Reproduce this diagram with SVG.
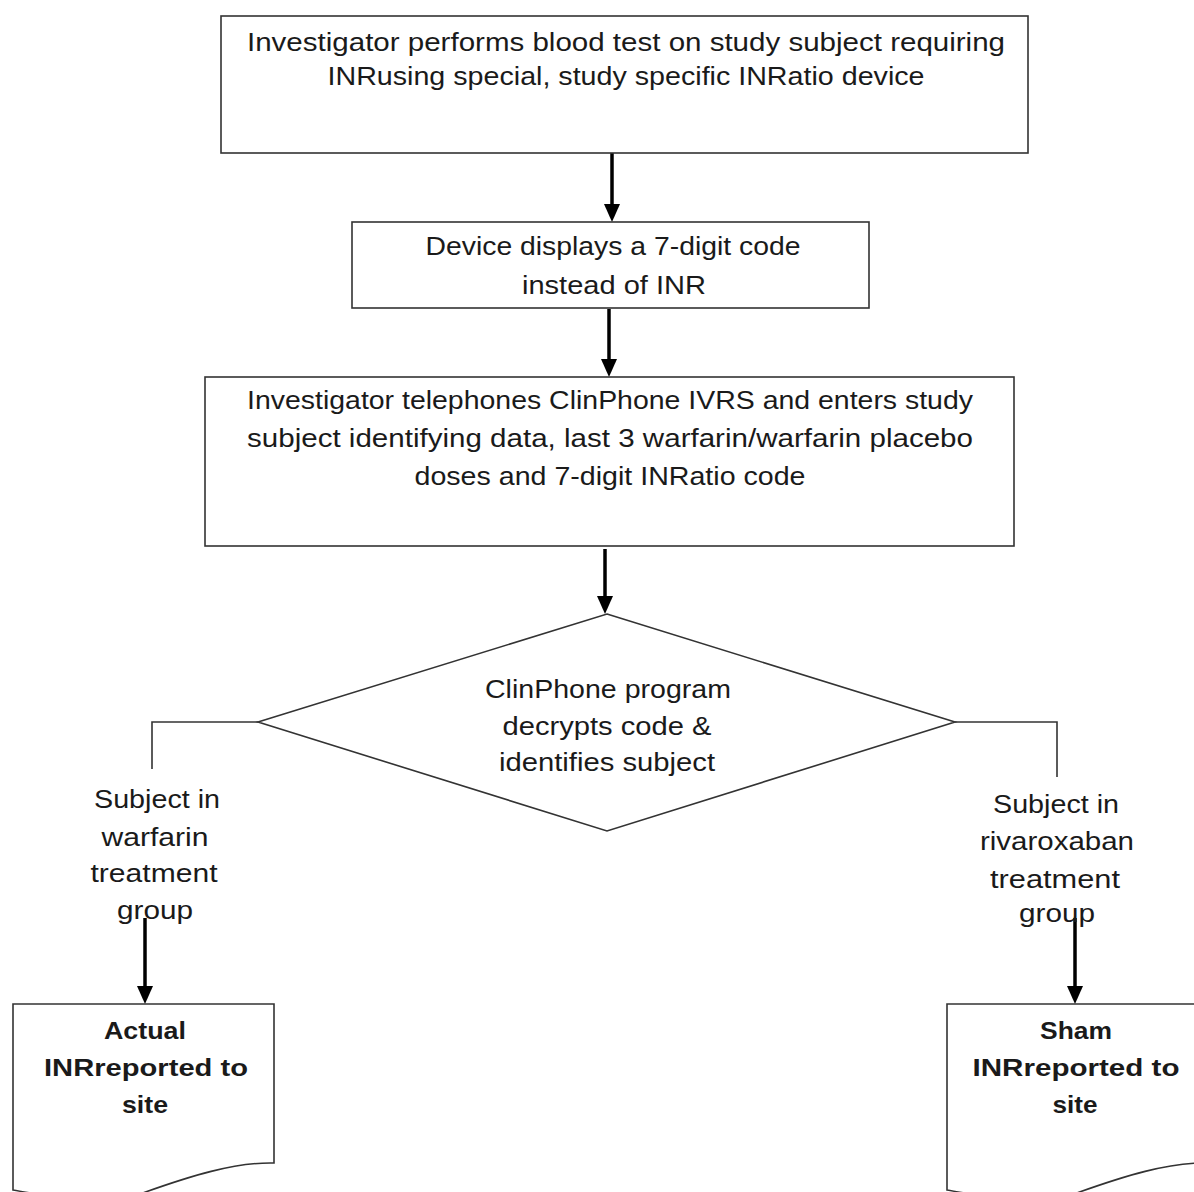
<svg xmlns="http://www.w3.org/2000/svg" width="1194" height="1192" viewBox="0 0 1194 1192">
<style>
  .box { fill: #ffffff; stroke: #333333; stroke-width: 1.6; }
  .t { font-family: "Liberation Sans", Arial, sans-serif; font-size: 25px; fill: #1a1a1a; text-anchor: middle; }
  .tb { font-family: "Liberation Sans", Arial, sans-serif; font-size: 24px; font-weight: bold; fill: #1a1a1a; text-anchor: middle; }
  .arrow { stroke: #000000; stroke-width: 3.5; fill: none; marker-end: url(#ah); }
  .link { stroke: #333333; stroke-width: 1.6; fill: none; }
</style>
<defs>
  <marker id="ah" markerUnits="userSpaceOnUse" viewBox="0 0 18 16" markerWidth="18" markerHeight="16" refX="6" refY="8" orient="auto">
    <path d="M0,0 L18,8 L0,16 Z" fill="#000000"/>
  </marker>
</defs>
<rect width="1194" height="1192" fill="#ffffff"/>

<g id="connectors">
  <line class="arrow" x1="612" y1="150" x2="612" y2="210"/>
  <line class="arrow" x1="609" y1="309" x2="609" y2="365"/>
  <line class="arrow" x1="605" y1="549" x2="605" y2="602"/>
  <polyline class="link" points="258,722 152,722 152,769"/>
  <polyline class="link" points="955,722 1057,722 1057,777"/>
  <line class="arrow" x1="145" y1="918" x2="145" y2="992"/>
  <line class="arrow" x1="1075" y1="918" x2="1075" y2="992"/>
</g>

<g id="node-blood-test">
  <rect class="box" x="221" y="16" width="807" height="137"/>
  <text class="t" x="626" y="51" textLength="758" lengthAdjust="spacingAndGlyphs">Investigator performs blood test on study subject requiring</text>
  <text class="t" x="626" y="85" textLength="597" lengthAdjust="spacingAndGlyphs">INRusing special, study specific INRatio device</text>
</g>

<g id="node-device-code">
  <rect class="box" x="352" y="222" width="517" height="86"/>
  <text class="t" x="613" y="255" textLength="375" lengthAdjust="spacingAndGlyphs">Device displays a 7-digit code</text>
  <text class="t" x="614" y="294" textLength="184" lengthAdjust="spacingAndGlyphs">instead of INR</text>
</g>

<g id="node-telephone">
  <rect class="box" x="205" y="377" width="809" height="169"/>
  <text class="t" x="610" y="409" textLength="726" lengthAdjust="spacingAndGlyphs">Investigator telephones ClinPhone IVRS and enters study</text>
  <text class="t" x="610" y="447" textLength="726" lengthAdjust="spacingAndGlyphs">subject identifying data, last 3 warfarin/warfarin placebo</text>
  <text class="t" x="610" y="485" textLength="391" lengthAdjust="spacingAndGlyphs">doses and 7-digit INRatio code</text>
</g>

<g id="node-decision">
  <polygon class="box" points="607,614 955,722 607,831 258,722"/>
  <text class="t" x="608" y="698" textLength="246" lengthAdjust="spacingAndGlyphs">ClinPhone program</text>
  <text class="t" x="607" y="735" textLength="209" lengthAdjust="spacingAndGlyphs">decrypts code &amp;</text>
  <text class="t" x="607" y="771" textLength="216" lengthAdjust="spacingAndGlyphs">identifies subject</text>
</g>

<g id="label-warfarin">
  <text class="t" x="157" y="808" textLength="126" lengthAdjust="spacingAndGlyphs">Subject in</text>
  <text class="t" x="155" y="846" textLength="107" lengthAdjust="spacingAndGlyphs">warfarin</text>
  <text class="t" x="154" y="882" textLength="127" lengthAdjust="spacingAndGlyphs">treatment</text>
  <text class="t" x="155" y="919" textLength="76" lengthAdjust="spacingAndGlyphs">group</text>
</g>

<g id="label-rivaroxaban">
  <text class="t" x="1056" y="813" textLength="126" lengthAdjust="spacingAndGlyphs">Subject in</text>
  <text class="t" x="1057" y="850" textLength="154" lengthAdjust="spacingAndGlyphs">rivaroxaban</text>
  <text class="t" x="1055" y="888" textLength="130" lengthAdjust="spacingAndGlyphs">treatment</text>
  <text class="t" x="1057" y="922" textLength="76" lengthAdjust="spacingAndGlyphs">group</text>
</g>

<g id="node-actual-inr">
  <path class="box" d="M13,1004 H274 V1163 C235,1162 190,1176 140,1194 C95,1208 50,1196 13,1190 Z"/>
  <text class="tb" x="145" y="1039" textLength="82" lengthAdjust="spacingAndGlyphs">Actual</text>
  <text class="tb" x="146" y="1076" textLength="204" lengthAdjust="spacingAndGlyphs">INRreported to</text>
  <text class="tb" x="145" y="1113" textLength="46" lengthAdjust="spacingAndGlyphs">site</text>
</g>

<g id="node-sham-inr">
  <path class="box" d="M947,1004 H1208 V1163 C1169,1162 1124,1176 1074,1194 C1029,1208 984,1196 947,1190 Z"/>
  <text class="tb" x="1076" y="1039" textLength="72" lengthAdjust="spacingAndGlyphs">Sham</text>
  <text class="tb" x="1076" y="1076" textLength="207" lengthAdjust="spacingAndGlyphs">INRreported to</text>
  <text class="tb" x="1075" y="1113" textLength="45" lengthAdjust="spacingAndGlyphs">site</text>
</g>
</svg>
